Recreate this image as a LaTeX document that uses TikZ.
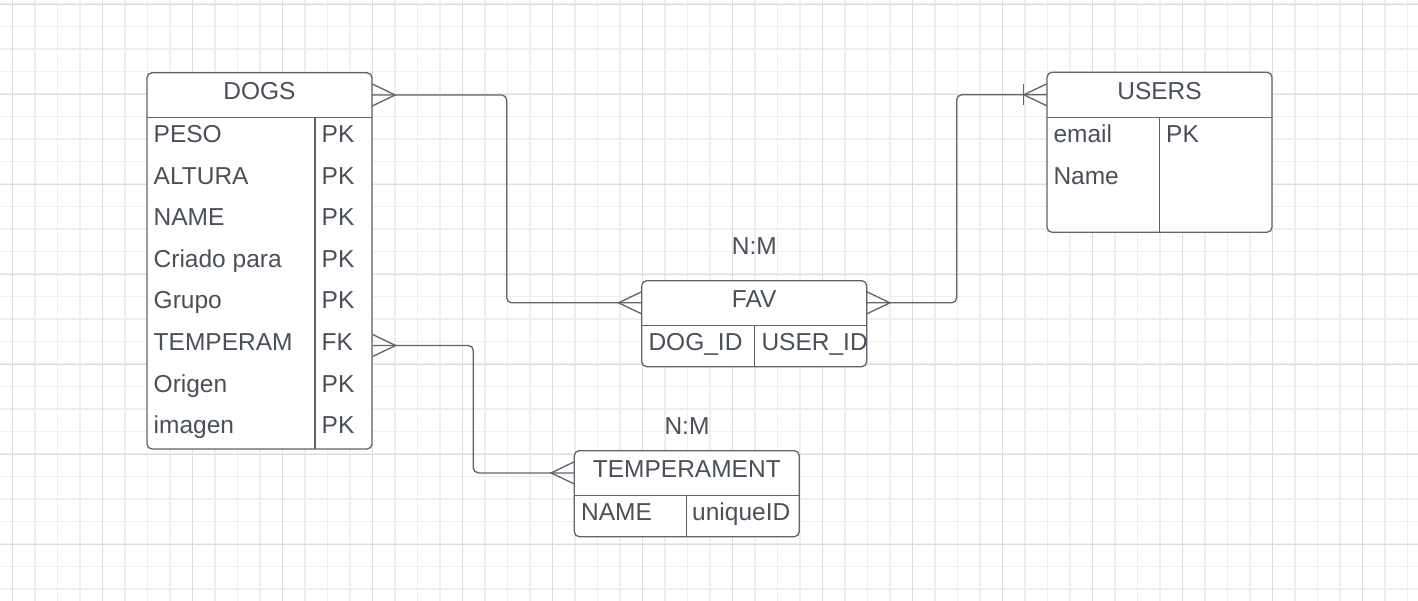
\documentclass[tikz,border=0pt]{standalone}
\usepackage{fontspec}
\setmainfont{Liberation Sans}
\usepackage{tikz}

\definecolor{ink}{RGB}{74,80,88}
\definecolor{edgegray}{RGB}{95,100,107}
\definecolor{gridminor}{RGB}{238,238,238}
\definecolor{gridmajor}{RGB}{220,220,220}

\begin{document}
\begin{tikzpicture}[x=1pt, y=-1pt,
        every node/.style={font=\fontsize{24.5}{28}\selectfont, text=ink},
        tablebox/.style={draw=edgegray, line width=1.3pt, fill=white, rounded corners=5pt, minimum width=225pt, inner sep=0pt},
        headbox/.style={minimum width=225pt, minimum height=44.5pt, inner sep=0pt, text height=17pt, text depth=7pt},
        cell/.style={anchor=west, inner sep=0pt, text height=17pt, text depth=7pt},
        rule/.style={draw=edgegray, line width=1.3pt},
        conn/.style={draw=edgegray, line width=1.3pt}]
        \useasboundingbox (0, 0) rectangle (1418, 601);
        \fill[white] (0, 0) rectangle (1418, 601);
        % grid
        \foreach \i in {0,...,62} \draw[gridminor, line width=1.5pt] ({12.7+22.5*\i}, 0) -- ({12.7+22.5*\i}, 601);
        \foreach \j in {0,...,26} \draw[gridminor, line width=1.5pt] (0, {4+22.5*\j}) -- (1418, {4+22.5*\j});
        \foreach \i in {0,4,...,60} \draw[gridmajor, line width=0.9pt] ({12.7+22.5*\i}, 0) -- ({12.7+22.5*\i}, 601);
        \foreach \j in {0,4,...,24} \draw[gridmajor, line width=0.9pt] (0, {4+22.5*\j}) -- (1418, {4+22.5*\j});

        % DOGS
        \node[tablebox, minimum height=376.3pt](dogs)at(259.5, 260.85){};
        \node[headbox](dogs-head)at(259.5, 95){DOGS};
        \draw[rule] (dogs-head.south west) -- (dogs-head.south east);
        \draw[rule] (315, 117.3) -- (315, 449);
        \node[cell](dogs-peso)at(153.5, 138){PESO};
        \node[cell](dogs-altura)at(153.5, 179.5){ALTURA};
        \node[cell](dogs-name)at(153.5, 221){NAME};
        \node[cell](dogs-criado)at(153.5, 262.5){Criado para};
        \node[cell](dogs-grupo)at(153.5, 304){Grupo};
        \node[cell](dogs-temperam)at(153.5, 345.5){TEMPERAM};
        \node[cell](dogs-origen)at(153.5, 387){Origen};
        \node[cell](dogs-imagen)at(153.5, 428.5){imagen};
        \node[cell](dogs-k1)at(321.5, 138){PK};
        \node[cell](dogs-k2)at(321.5, 179.5){PK};
        \node[cell](dogs-k3)at(321.5, 221){PK};
        \node[cell](dogs-k4)at(321.5, 262.5){PK};
        \node[cell](dogs-k5)at(321.5, 304){PK};
        \node[cell](dogs-k6)at(321.5, 345.5){FK};
        \node[cell](dogs-k7)at(321.5, 387){PK};
        \node[cell](dogs-k8)at(321.5, 428.5){PK};
        \coordinate (dogs-fk) at (dogs-temperam -| dogs.east);

        % USERS
        \node[tablebox, minimum height=160pt](users)at(1159.5, 152.3){};
        \node[headbox](users-head)at(1159.5, 94.8){USERS};
        \draw[rule] (users-head.south west) -- (users-head.south east);
        \draw[rule] (1159.3, 117.3) -- (1159.3, 232.3);
        \node[cell](users-email)at(1053.3, 138){email};
        \node[cell](users-name)at(1053.3, 179.5){Name};
        \node[cell](users-k1)at(1166, 138){PK};

        % FAV
        \node[tablebox, minimum height=86pt](fav)at(754.2, 323.7){};
        \node[headbox](fav-head)at(754.2, 302.8){FAV};
        \draw[rule] (fav-head.south west) -- (fav-head.south east);
        \draw[rule] (754.3, 325) -- (754.3, 366.7);
        \node[cell](fav-dog)at(648.3, 345.8){DOG\_ID};
        \node[cell](fav-user)at(761.3, 345.8){USER\_ID};
        \node[anchor=base](fav-card)at(754.3, 255){N:M};

        % TEMPERAMENT
        \node[tablebox, minimum height=86pt](temp)at(686.8, 493.7){};
        \node[headbox](temp-head)at(686.8, 472.9){TEMPERAMENT};
        \draw[rule] (temp-head.south west) -- (temp-head.south east);
        \draw[rule] (686.7, 495) -- (686.7, 536.7);
        \node[cell](temp-name)at(581, 515.8){NAME};
        \node[cell](temp-id)at(692, 515.8){uniqueID};
        \node[anchor=base](temp-card)at(687, 434){N:M};

        % relations
        \coordinate (bend-fav) at (506.7, 200);
        \coordinate (bend-users) at (956.7, 200);
        \coordinate (bend-temp) at (473.3, 400);
        \draw[conn, rounded corners=5pt] (dogs-head.east) -- (dogs-head.east -| bend-fav) -- (bend-fav |- fav-head.west) -- (fav-head.west);
        \draw[conn, rounded corners=5pt] (fav-head.east) -- (fav-head.east -| bend-users) -- (bend-users |- users-head.west) -- (users-head.west);
        \draw[conn, rounded corners=5pt] (dogs-fk) -- (dogs-fk -| bend-temp) -- (bend-temp |- temp-head.west) -- (temp-head.west);
        % crow's feet
        \draw[conn] ([yshift=11pt]dogs-head.east) -- ([xshift=23pt]dogs-head.east) -- ([yshift=-11pt]dogs-head.east);
        \draw[conn] ([yshift=11pt]dogs-fk) -- ([xshift=23pt]dogs-fk) -- ([yshift=-11pt]dogs-fk);
        \draw[conn] ([yshift=11pt]fav-head.west) -- ([xshift=-23pt]fav-head.west) -- ([yshift=-11pt]fav-head.west);
        \draw[conn] ([yshift=11pt]fav-head.east) -- ([xshift=23pt]fav-head.east) -- ([yshift=-11pt]fav-head.east);
        \draw[conn] ([yshift=11pt]temp-head.west) -- ([xshift=-23pt]temp-head.west) -- ([yshift=-11pt]temp-head.west);
        \draw[conn] ([yshift=11pt]users-head.west) -- ([xshift=-23pt]users-head.west) -- ([yshift=-11pt]users-head.west);
        \draw[conn] ([xshift=-23pt, yshift=10.5pt]users-head.west) -- ([xshift=-23pt, yshift=-10.5pt]users-head.west);
    \end{tikzpicture}
\end{document}
